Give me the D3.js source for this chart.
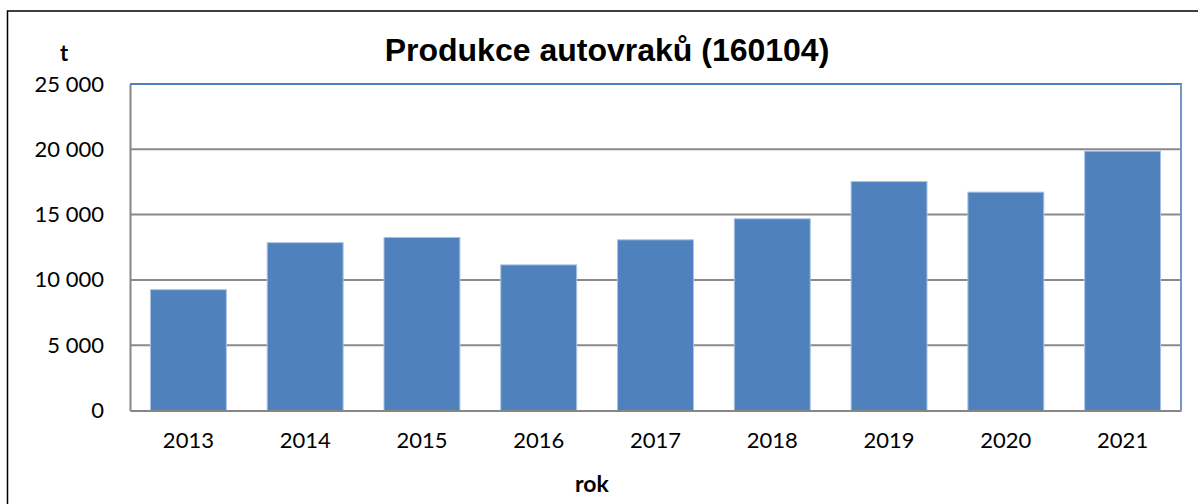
<!DOCTYPE html>
<html>
<head>
    <meta charset="utf-8">
    <style>
        body { margin: 0; background: #fff; }
    </style>
</head>
<body>
    <script src="https://cdn.jsdelivr.net/npm/d3@7"></script>
    <script>
        var years = ['2013', '2014', '2015', '2016', '2017', '2018', '2019', '2020', '2021'];
        var tonnes = [9250, 12850, 13250, 11150, 13070, 14680, 17530, 16720, 19860];
        var yTicks = [0, 5000, 10000, 15000, 20000, 25000];
        var titleText = 'Produkce autovraků (160104)';
        var yUnit = 't';
        var xTitle = 'rok';

        var width = 1198, height = 504;
        var plot = { left: 130, right: 1181, top: 84, bottom: 410.5 };

        var svg = d3.select('body').append('svg')
            .attr('width', width)
            .attr('height', height);

        // outer chart frame (runs off the right and bottom edges)
        svg.append('rect')
            .attr('x', 7.5).attr('y', 11)
            .attr('width', width + 10).attr('height', height + 10)
            .attr('fill', '#fff')
            .attr('stroke', '#000')
            .attr('stroke-width', 1.5);

        var xScale = d3.scaleBand()
            .domain(years)
            .range([plot.left, plot.right])
            .paddingInner(0.35)
            .paddingOuter(0.175);

        var yScale = d3.scaleLinear()
            .domain([0, 25000])
            .range([plot.bottom, plot.top]);

        // gridlines
        svg.append('g')
            .selectAll('line')
            .data(yTicks.filter(function (d) { return d > 0 && d < 25000; }))
            .enter()
            .append('line')
            .attr('x1', plot.left).attr('x2', plot.right)
            .attr('y1', function (d) { return yScale(d); })
            .attr('y2', function (d) { return yScale(d); })
            .attr('stroke', '#8a8a8a')
            .attr('stroke-width', 2);

        // plot area border: top and right blue
        svg.append('line')
            .attr('x1', plot.left).attr('x2', plot.right + 1)
            .attr('y1', plot.top).attr('y2', plot.top)
            .attr('stroke', '#4f81bd').attr('stroke-width', 2);
        svg.append('line')
            .attr('x1', plot.right).attr('x2', plot.right)
            .attr('y1', plot.top).attr('y2', plot.bottom)
            .attr('stroke', '#6f98cc').attr('stroke-width', 2);

        // bars
        svg.append('g')
            .selectAll('rect')
            .data(tonnes)
            .enter()
            .append('rect')
            .attr('x', function (d, i) { return xScale(years[i]); })
            .attr('y', function (d) { return yScale(d); })
            .attr('width', xScale.bandwidth())
            .attr('height', function (d) { return yScale(0) - yScale(d); })
            .attr('fill', '#4f81bd')
            .attr('stroke', '#a9c2e2')
            .attr('stroke-width', 1);

        // axes
        var fmt = function (d) { return d3.format(',')(d).replace(/,/g, ' '); };
        var yAxis = d3.axisLeft(yScale).tickValues(yTicks).tickSize(0).tickPadding(26).tickFormat(fmt);
        var yAxisNodes = svg.append('g')
            .attr('transform', 'translate(' + plot.left + ',0)')
            .call(yAxis);
        var xAxis = d3.axisBottom(xScale).tickSize(0).tickPadding(22);
        var xAxisNodes = svg.append('g')
            .attr('transform', 'translate(0,' + plot.bottom + ')')
            .call(xAxis);
        styleAxisNodes(yAxisNodes);
        styleAxisNodes(xAxisNodes);

        svg.append('text')
            .attr('x', 607).attr('y', 61)
            .attr('text-anchor', 'middle')
            .attr('font-family', 'Liberation Sans, Arial, sans-serif')
            .attr('font-weight', 'bold')
            .attr('font-size', 32)
            .text(titleText);

        svg.append('text')
            .attr('x', 64).attr('y', 61)
            .attr('text-anchor', 'middle')
            .attr('font-family', 'Lato, sans-serif')
            .attr('font-weight', 'bold')
            .attr('font-size', 22)
            .text(yUnit);

        svg.append('text')
            .attr('x', 592).attr('y', 492)
            .attr('text-anchor', 'middle')
            .attr('font-family', 'Lato, sans-serif')
            .attr('font-weight', 'bold')
            .attr('font-size', 23)
            .text(xTitle);

        function styleAxisNodes(axisNodes) {
            axisNodes.select('.domain')
                .attr('stroke', '#868686')
                .attr('stroke-width', 2);
            axisNodes.selectAll('.tick text')
                .attr('font-family', 'Lato, sans-serif')
                .attr('font-size', 22)
                .attr('fill', '#000');
        }
    </script>
</body>
</html>
